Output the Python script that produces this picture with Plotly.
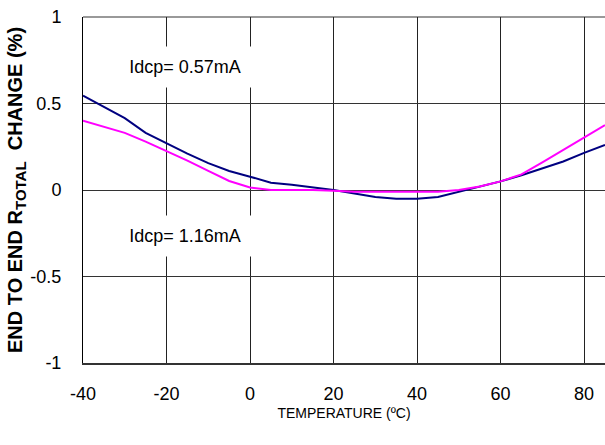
import plotly.graph_objects as go

temps = [-40, -35, -30, -25, -20, -15, -10, -5, 0, 5, 10, 15, 20, 25, 30, 35, 40,
         45, 50, 55, 60, 65, 70, 75, 80, 85]
change_057 = [0.545, 0.48, 0.415, 0.33, 0.27, 0.21, 0.155, 0.11, 0.077, 0.042, 0.03,
              0.015, 0.0, -0.02, -0.04, -0.05, -0.05, -0.04, -0.01, 0.02, 0.05,
              0.085, 0.125, 0.165, 0.215, 0.26]
change_116 = [0.40, 0.365, 0.33, 0.28, 0.227, 0.17, 0.11, 0.052, 0.015, 0.0, 0.0,
              0.0, -0.005, -0.01, -0.01, -0.01, -0.01, -0.01, 0.0, 0.02, 0.05,
              0.09, 0.16, 0.23, 0.30, 0.375]

x_ticks = [-40, -20, 0, 20, 40, 60, 80]
x_tick_labels = ["-40", "-20", "0", "20", "40", "60", "80"]
y_ticks = [-1, -0.5, 0, 0.5, 1]
y_tick_labels = ["-1", "-0.5", "0", "0.5", "1"]

label_057 = "Idcp= 0.57mA"
label_116 = "Idcp= 1.16mA"

FONT = "Liberation Sans, Arial, sans-serif"

fig = go.Figure()
fig.add_trace(go.Scatter(x=temps, y=change_057, mode="lines",
                         line=dict(color="#000080", width=2), showlegend=False))
fig.add_trace(go.Scatter(x=temps, y=change_116, mode="lines",
                         line=dict(color="#FF00FF", width=2), showlegend=False))

# top frame line
fig.add_shape(type="line", xref="paper", yref="paper", x0=0, x1=1, y0=1, y1=1,
              line=dict(color="#999999", width=2), layer="below")

for txt, xx, yy in [(label_057, -15.6, 0.71), (label_116, -15.6, -0.265)]:
    fig.add_annotation(x=xx, y=yy, xref="x", yref="y", text=txt, showarrow=False,
                       font=dict(family=FONT, size=18, color="#000000"),
                       bgcolor="#FFFFFF", width=140, height=38)

fig.add_annotation(xref="paper", yref="paper", x=0, y=0.5, xshift=-67,
                   xanchor="center", yanchor="middle",
                   text="END TO END R<sub><span style='font-size:15px'>TOTAL</span></sub>  CHANGE (%)",
                   textangle=-90, showarrow=False,
                   font=dict(family=FONT, size=20, color="#000000", weight="bold"))

fig.update_layout(
    width=605, height=445,
    margin=dict(l=83, r=0, t=17, b=82),
    paper_bgcolor="#FFFFFF", plot_bgcolor="#FFFFFF",
    font=dict(family=FONT, color="#000000"),
    xaxis=dict(range=[-40, 85], tickvals=x_ticks, ticktext=x_tick_labels,
               showgrid=True, gridcolor="#222222",
               gridwidth=1, zeroline=False, showline=True, linecolor="#333333",
               linewidth=2, ticks="", ticklabelstandoff=13, automargin=False,
               tickfont=dict(size=18, family=FONT),
               title=dict(text="TEMPERATURE (ºC)", font=dict(size=14, family=FONT),
                          standoff=6)),
    yaxis=dict(range=[-1, 1], tickvals=y_ticks, ticktext=y_tick_labels, showgrid=True,
               gridcolor="#333333", gridwidth=1, zeroline=False, showline=True,
               linecolor="#000000", linewidth=1, ticks="", ticklabelstandoff=17,
               automargin=False, tickfont=dict(size=18, family=FONT)),
)

fig.write_html("out.html", config={"displayModeBar": False},
               post_script="document.body.style.margin='0';document.body.style.padding='0';")
